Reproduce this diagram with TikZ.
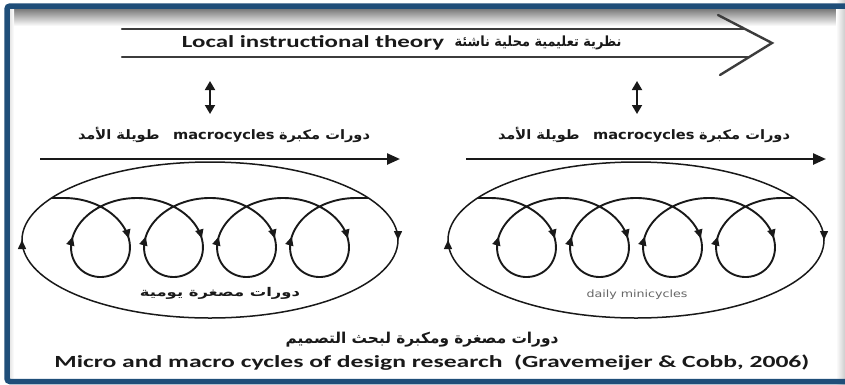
\documentclass[tikz,border=0pt]{standalone}
\usepackage{fontspec}
\usepackage{graphicx}
\usetikzlibrary{arrows.meta,decorations.markings}
\setmainfont{Carlito}
\newfontfamily\arabicfont[Script=Arabic]{DejaVu Sans}
\newfontfamily\verdfont{DejaVu Sans}
\TeXXeTstate=1
\newcommand\fitw[2]{\resizebox{#1}{\height}{#2}}
\definecolor{framecol}{RGB}{31,78,121}
\definecolor{ink}{RGB}{25,25,25}
\tikzset{
  bandline/.style={line width=2.4pt, draw=ink!85, line cap=round, line join=miter},
  dblarrow/.style={line width=1.8pt, draw=ink, {Triangle[length=9pt,width=10pt]}-{Triangle[length=9pt,width=10pt]}},
  macroarrow/.style={line width=2.4pt, draw=ink, -{Triangle[length=13pt,width=11pt]}},
  ellpath/.style={line width=1.5pt, draw=ink, postaction=decorate,
    decoration={markings,
      mark=at position 0.25 with {\arrow{Triangle[length=9pt,width=8pt]}},
      mark=at position 0.75 with {\arrow{Triangle[length=9pt,width=8pt]}}}},
  loopline/.style={line width=1.9pt, draw=ink},
  looptip/.style={line width=1.8pt, draw=ink, -{Triangle[length=9pt,width=8pt]}},
  txt/.style={inner sep=0pt, text=ink}
}
\begin{document}
\begin{tikzpicture}[x=1pt,y=-1pt]
\useasboundingbox (0,0) rectangle (845,384);
\fill[white] (0,0) rectangle (845,384);
% top inner shadow
\shade[top color=black!55, bottom color=white] (9,8) rectangle (845,26);
\shade[left color=black!12, right color=white] (9,8) rectangle (14,378);
\shade[left color=white, right color=black!20] (836,0) rectangle (845,384);
% frame
\draw[framecol, line width=5.5pt, rounded corners=3pt] (845,6) -- (7,6) -- (7,381.5) -- (845,381.5);

% top band arrow
\coordinate (bandTL) at (122,29);
\coordinate (bandTR) at (745,29);
\coordinate (bandBL) at (122,57);
\coordinate (bandBR) at (749,57);
\coordinate (chevA) at (718,15);
\coordinate (chevTip) at (772,43);
\coordinate (chevB) at (720,75);
\draw[bandline] (bandTL) -- (bandTR);
\draw[bandline] (bandBL) -- (bandBR);
\draw[bandline] (chevA) -- (chevTip) -- (chevB);

\node[txt] (lit) at (313,43) {\fitw{262pt}{\fontsize{17}{17}\selectfont\bfseries Local instructional theory}};
\node[txt] (lita) at (538,43) {\fitw{167pt}{\arabicfont\bfseries\fontsize{14}{14}\selectfont\beginR نظرية تعليمية محلية ناشئة\endR}};

% double arrows
\coordinate (dLt) at (210,81);
\coordinate (dLb) at (210,114);
\coordinate (dRt) at (637,81);
\coordinate (dRb) at (637,114);
\draw[dblarrow] (dLt) -- (dLb);
\draw[dblarrow] (dRt) -- (dRb);

% macro labels
\node[txt] (macL) at (224,135) {\fitw{292pt}{\arabicfont\fontsize{13}{13}\selectfont\beginR{\bfseries دورات مكبرة}\hspace{4pt}\beginL{\verdfont\bfseries macrocycles}\endL{}\hspace{12pt}{\bfseries طويلة الأمد}\endR}};
\node[txt] (macR) at (644,135) {\fitw{292pt}{\arabicfont\fontsize{13}{13}\selectfont\beginR{\bfseries دورات مكبرة}\hspace{4pt}\beginL{\verdfont\bfseries macrocycles}\endL{}\hspace{12pt}{\bfseries طويلة الأمد}\endR}};

% two cycle groups
\foreach \ox in {0,426}{
\begin{scope}[xshift=\ox pt]
  \coordinate (mS) at (40,159);
  \coordinate (mE) at (400,159);
  \draw[macroarrow] (mS) -- (mE);
  \coordinate (eTop) at (210,162);
  \draw[ellpath] (eTop) arc[start angle=-90, end angle=270, x radius=188, y radius=78];
  \coordinate (lS) at (52,198);
  \coordinate (lS2) at (64,198);
  \coordinate (lE) at (356,198);
  \coordinate (lE2) at (368,198);
  \draw[loopline] (lS) -- (lS2);
  \draw[loopline] (lE) -- (lE2);
  \draw[loopline] plot[domain=0:25.1327, samples=300, smooth, variable=\t]
     ({64+11.6197*\t+46.25*sin(\t r)}, {237.5-39.5*cos(\t r)});
  \foreach \c in {100.5,173.5,246.5,319.5}{
    \draw[looptip] (\c+28-1.7,231.5) -- (\c+28+0.3,238.5);
    \draw[looptip] (\c-28-1.7,243.5) -- (\c-28+0.3,236.5);
  }
\end{scope}
}

\node[txt] (miniL) at (220,293) {\fitw{160pt}{\arabicfont\bfseries\fontsize{12}{12}\selectfont\beginR دورات مصغرة يومية\endR}};
\node[txt, text=black!60] (miniR) at (637,295) {\fitw{101pt}{\verdfont\fontsize{10}{10}\selectfont daily minicycles}};

\node[txt] (capA) at (422,340) {\fitw{273pt}{\arabicfont\bfseries\fontsize{15}{15}\selectfont\beginR دورات مصغرة ومكبرة لبحث التصميم\endR}};
\node[txt] (capE) at (432,363) {\fitw{755pt}{\fontsize{17}{17}\selectfont\bfseries Micro and macro cycles of design research\ \ (Gravemeijer \& Cobb, 2006)}};
\end{tikzpicture}
\end{document}
